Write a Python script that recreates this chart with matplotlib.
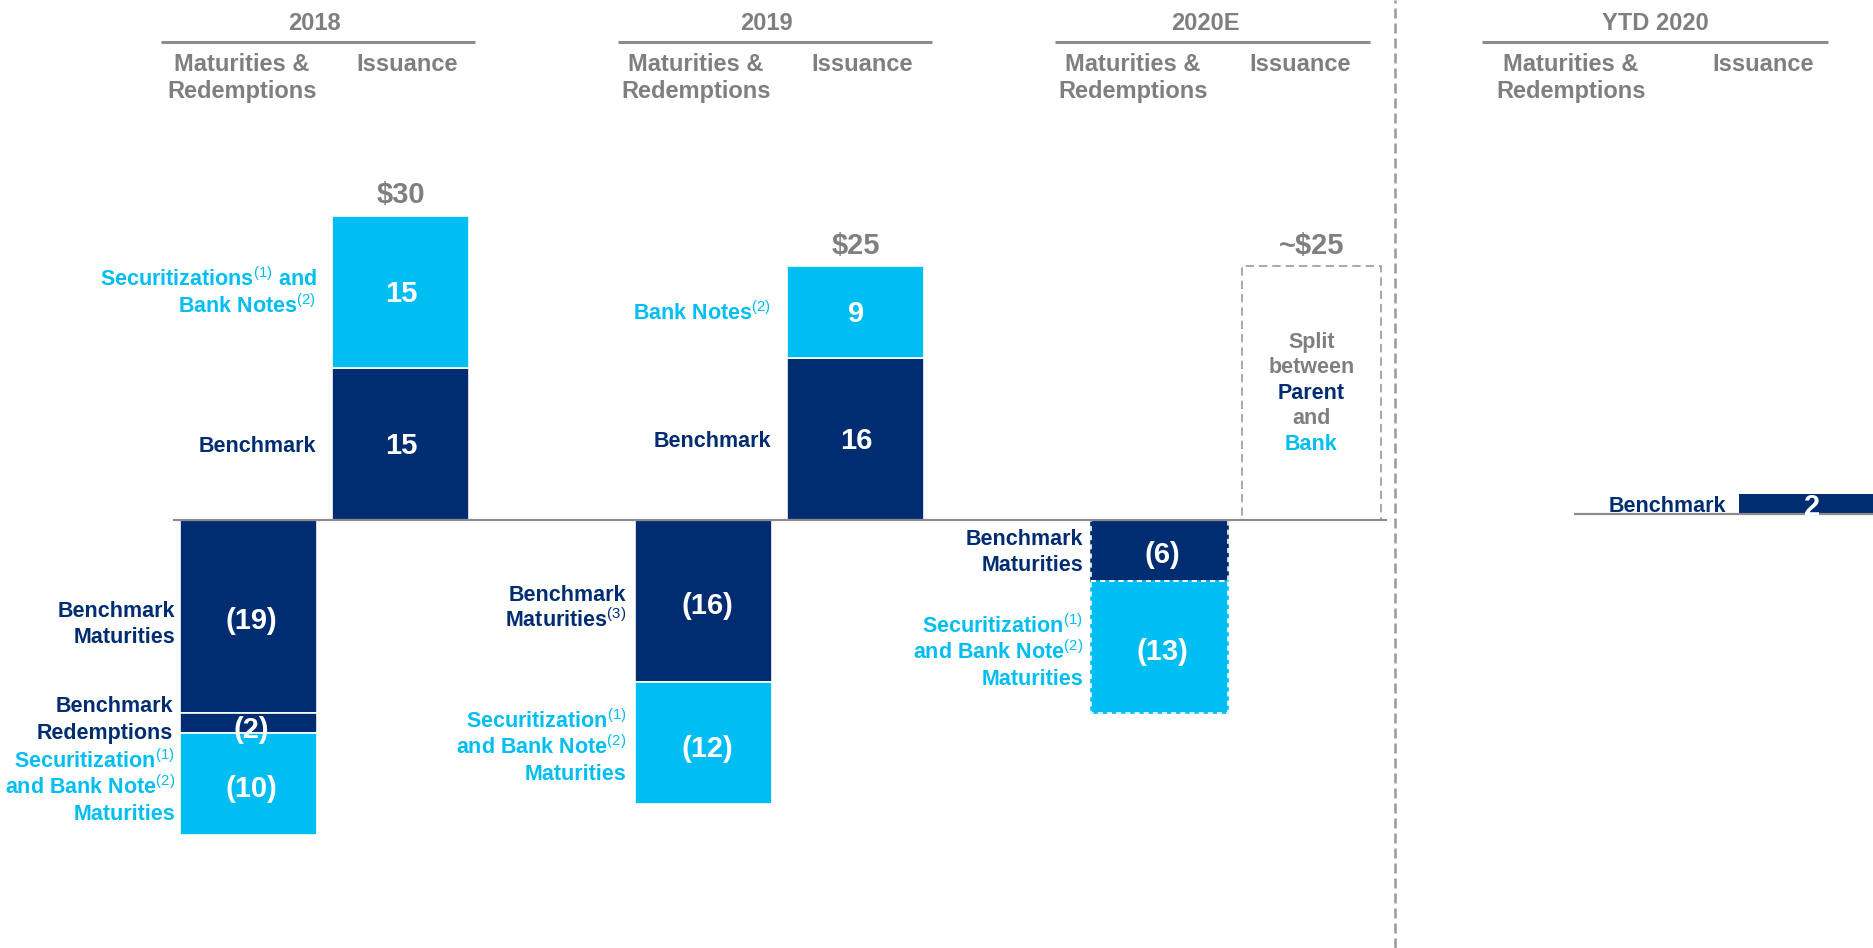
import matplotlib
matplotlib.use("Agg")
import matplotlib.pyplot as plt
from matplotlib.transforms import offset_copy

plt.rcParams['font.family'] = ['Liberation Sans', 'DejaVu Sans']
plt.rcParams['mathtext.fontset'] = 'custom'
plt.rcParams['mathtext.rm'] = 'Liberation Sans'
plt.rcParams['mathtext.it'] = 'Liberation Sans:italic'
plt.rcParams['mathtext.bf'] = 'Liberation Sans:bold'

# ---------------- data ----------------
periods = ['2018', '2019', '2020E', 'YTD 2020']
sub_maturities = 'Maturities &\nRedemptions'
sub_issuance = 'Issuance'

iss_benchmark = [15, 16]
iss_banknotes = [15, 9]
iss_total_labels = ['\\$30', '\\$25']
iss_estimate_2020 = 25
iss_estimate_label = '~\\$25'

mat_benchmark = [19, 16, 6]
mat_redemptions = [2, 0, 0]
mat_securitization = [10, 12, 13]

ytd_benchmark = 2

iss_labels_bn = ['Securitizations$^{(1)}$ and\nBank Notes$^{(2)}$', 'Bank Notes$^{(2)}$']
iss_labels_bm = ['Benchmark', 'Benchmark']
mat_labels_bm = ['Benchmark\nMaturities', 'Benchmark\nMaturities$^{(3)}$', 'Benchmark\nMaturities']
mat_label_redemp = 'Benchmark\nRedemptions'
mat_labels_sec = ['Securitization$^{(1)}$\nand Bank Note$^{(2)}$\nMaturities'] * 3
split_lines = ['Split', 'between', 'Parent', 'and', 'Bank']
ytd_label = 'Benchmark'

# ---------------- style / layout ----------------
NAVY = '#002D72'
LIGHT = '#00BEF2'
GRAY = '#7F7F7F'
LINEGRAY = '#8C8C8C'

W, H = 1874, 948
PPU = 10.15          # pixels per $B
Z1, Z2 = 520, 514    # baseline pixel rows (from top)
BW = 137
mat_x = [248.5, 704, 1159.5]
iss_x = [401, 856, 1311.5]
ytd_x = 1807.5
LBL = 15.5

fig = plt.figure(figsize=(W / 100, H / 100), dpi=100)
ax = fig.add_axes([0, 0, 1, 1])
ax.set_xlim(0, W)
ax.set_ylim((Z1 - H) / PPU, Z1 / PPU)
ax.axis('off')
ax2 = fig.add_axes([0, 0, 1, 1])
ax2.set_xlim(0, W)
ax2.set_ylim((Z2 - H) / PPU, Z2 / PPU)
ax2.axis('off')
ax2.patch.set_visible(False)


def ypx(y):
    return (Z1 - y) / PPU


def put(axis, x, y, s, dx=0, dy=0, **kw):
    tr = offset_copy(axis.transData, fig=fig, x=dx, y=dy, units='dots')
    return axis.text(x, y, s, transform=tr, **kw)


def block(axis, x, ycen, text, size=LBL, color=NAVY, ha='right', spacing=26.5,
          dy=0, colors=None):
    ls = text.split('\n')
    n = len(ls)
    cap = 0.716 * size * 100 / 72
    for k, line in enumerate(ls):
        off = ((n - 1) / 2 - k) * spacing - cap / 2 + dy
        put(axis, x, ycen, line, dy=off, ha=ha, va='baseline', fontsize=size,
            color=colors[k] if colors else color, fontweight='bold')


# ---------------- headers ----------------
hdr = [(314, 161, 475, 242, 407),
       (766, 618, 932, 696, 862),
       (1205, 1055, 1370, 1133, 1300),
       (1655, 1482, 1828, 1571, 1763)]
for name, (tx, l0, l1, mx, ix) in zip(periods, hdr):
    ax.text(tx, ypx(30.5), name, ha='center', va='baseline', fontsize=17,
            fontweight='bold', color=GRAY)
    ax.plot([l0, l1], [ypx(42), ypx(42)], color=LINEGRAY, lw=2.2,
            solid_capstyle='butt')
    m1, m2 = sub_maturities.split('\n')
    ax.text(mx, ypx(71), m1, ha='center', va='baseline', fontsize=17,
            fontweight='bold', color=GRAY)
    ax.text(mx, ypx(98), m2, ha='center', va='baseline', fontsize=17,
            fontweight='bold', color=GRAY)
    ax.text(ix, ypx(71), sub_issuance, ha='center', va='baseline', fontsize=17,
            fontweight='bold', color=GRAY)

VAL = 21
VCAP = 0.716 * VAL * 100 / 72

# ---------------- issuance 2018 / 2019 ----------------
for i in range(2):
    b = iss_benchmark[i]
    n = iss_banknotes[i]
    ax.bar(iss_x[i], b, width=BW, color=NAVY, edgecolor='white', lw=1.2, zorder=2)
    ax.bar(iss_x[i], n, bottom=b, width=BW, color=LIGHT, edgecolor='white', lw=1.2, zorder=2)
    put(ax, iss_x[i], b / 2, str(b), dy=-VCAP / 2, ha='center', va='baseline',
        fontsize=VAL, fontweight='bold', color='white', zorder=4)
    put(ax, iss_x[i], b + n / 2, str(n), dy=-VCAP / 2, ha='center', va='baseline',
        fontsize=VAL, fontweight='bold', color='white', zorder=4)
    put(ax, iss_x[i], b + n, iss_total_labels[i], dy=22 - VCAP / 2 + 1,
        ha='center', va='baseline', fontsize=VAL, fontweight='bold', color=GRAY)
    lx = iss_x[i] - BW / 2 - 16
    block(ax, lx, b + n / 2, iss_labels_bn[i], color=LIGHT, spacing=27)
    block(ax, lx, b / 2, iss_labels_bm[i], color=NAVY)

# ---------------- 2020E estimated issuance ----------------
ax.bar(iss_x[2], iss_estimate_2020, width=139, fill=False, edgecolor='#999999',
       lw=1.2, ls=(0, (5, 3)), zorder=2)
put(ax, iss_x[2], iss_estimate_2020, iss_estimate_label, dy=22 - VCAP / 2 + 1,
    ha='center', va='baseline', fontsize=VAL, fontweight='bold', color=GRAY)
block(ax, iss_x[2], iss_estimate_2020 / 2, '\n'.join(split_lines), size=LBL,
      ha='center', spacing=25.5, dy=2,
      colors=[GRAY, GRAY, NAVY, GRAY, LIGHT])

# ---------------- maturities ----------------
mat_dy_bm = [-6, -5, 0]
mat_dy_sec = [-2, -3, -4]
for i in range(3):
    bm = mat_benchmark[i]
    rd = mat_redemptions[i]
    sc = mat_securitization[i]
    est = (i == 2)
    segs = [(-bm, 0, NAVY), (-rd, -bm, NAVY), (-sc, -bm - rd, LIGHT)]
    for h, bot, col in segs:
        if h == 0:
            continue
        if est:
            ax.bar(mat_x[i], h, bottom=bot, width=BW, color=col, edgecolor=col,
                   lw=1.2, zorder=2)
            ax.bar(mat_x[i], h, bottom=bot, width=BW, fill=False, edgecolor='white',
                   lw=1.2, ls=(0, (3, 2.5)), zorder=2.5)
        else:
            ax.bar(mat_x[i], h, bottom=bot, width=BW, color=col, edgecolor='white',
                   lw=1.2, zorder=2)
    put(ax, mat_x[i] + 3, -bm / 2, f'({bm})', dy=-VCAP / 2 - 2, ha='center',
        va='baseline', fontsize=VAL, fontweight='bold', color='white', zorder=4)
    if rd:
        put(ax, mat_x[i] + 3, -bm - rd / 2, f'({rd})', dy=-VCAP / 2 - 5, ha='center',
            va='baseline', fontsize=VAL, fontweight='bold', color='white', zorder=4)
    put(ax, mat_x[i] + 3, -bm - rd - sc / 2, f'({sc})', dy=-VCAP / 2 - 3, ha='center',
        va='baseline', fontsize=VAL, fontweight='bold', color='white', zorder=4)
    gap = [5, 9, 8][i]
    lx = mat_x[i] - BW / 2 - gap
    block(ax, lx, -bm / 2, mat_labels_bm[i], color=NAVY, dy=mat_dy_bm[i])
    if rd:
        block(ax, lx - 2, -bm - rd / 2, mat_label_redemp, color=NAVY, dy=5)
    block(ax, lx, -bm - rd - sc / 2, mat_labels_sec[i], color=LIGHT,
          spacing=26, dy=mat_dy_sec[i])

# baseline
ax.hlines(0, 173, 1387, color=LINEGRAY, lw=1.6, zorder=3)

# separator
ax.axvline(1395, color='#999999', lw=1.8, ls=(0, (4, 2)), zorder=1)

# ---------------- YTD 2020 ----------------
ax2.bar(ytd_x, ytd_benchmark, width=BW, color=NAVY, zorder=2)
put(ax2, ytd_x + 5, ytd_benchmark / 2, str(ytd_benchmark), dy=-VCAP / 2 - 1,
    ha='center', va='baseline', fontsize=VAL, fontweight='bold', color='white', zorder=4)
block(ax2, ytd_x - BW / 2 - 13, ytd_benchmark / 2, ytd_label, color=NAVY)
ax2.hlines(0, 1574, W, color=LINEGRAY, lw=1.6, zorder=3)

fig.savefig('out.png', dpi=100)
